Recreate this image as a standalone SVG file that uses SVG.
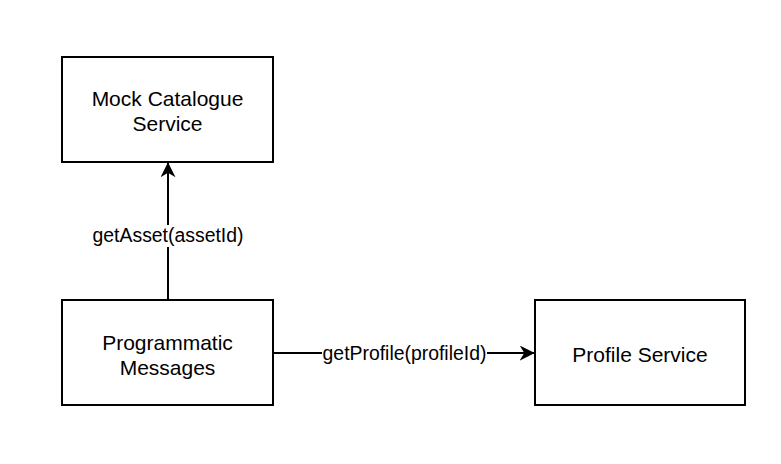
<svg xmlns="http://www.w3.org/2000/svg" width="781" height="464" viewBox="0 0 781 464">
<style>
.box{fill:#fff;stroke:#000;stroke-width:2}
.t{font-family:"Liberation Sans",Arial,sans-serif;font-size:21px;fill:#000;text-anchor:middle}
.lbl{font-family:"Liberation Sans",Arial,sans-serif;font-size:19.4px;fill:#000;text-anchor:middle}
.edge{stroke:#000;stroke-width:2;fill:none}
</style>
<defs>
<marker id="arr" viewBox="0 0 10 10" refX="9.5" refY="5" markerWidth="15" markerHeight="15" markerUnits="userSpaceOnUse" orient="auto">
<path d="M0,0 L10,5 L0,10 L3,5 Z" fill="#000"/>
</marker>
</defs>
<rect width="781" height="464" fill="#fff"/>
<g id="connectors">
<path class="edge" d="M168,300 V163" marker-end="url(#arr)"/>
<rect x="92" y="225" width="153" height="22" fill="#fff"/>
<text class="lbl" x="168" y="242">getAsset(assetId)</text>
<path class="edge" d="M273,353 H534" marker-end="url(#arr)"/>
<rect x="322" y="343" width="165" height="22" fill="#fff"/>
<text class="lbl" x="404.5" y="360">getProfile(profileId)</text>
</g>
<g id="mock-catalogue">
<rect class="box" x="62" y="57" width="211" height="105"/>
<text class="t" x="167.5" y="106">Mock Catalogue</text>
<text class="t" x="167.5" y="131">Service</text>
</g>
<g id="programmatic-messages">
<rect class="box" x="62" y="300" width="211" height="105"/>
<text class="t" x="167.5" y="350">Programmatic</text>
<text class="t" x="167.5" y="375">Messages</text>
</g>
<g id="profile-service">
<rect class="box" x="535" y="300" width="210" height="105"/>
<text class="t" x="640" y="362">Profile Service</text>
</g>
</svg>
